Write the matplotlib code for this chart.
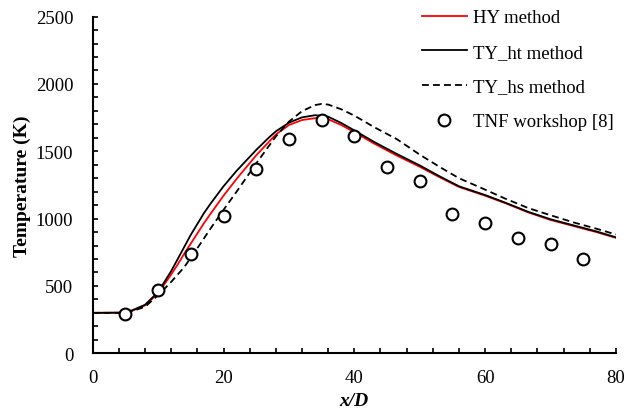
import matplotlib
matplotlib.use("Agg")
import matplotlib.pyplot as plt
from matplotlib.ticker import MultipleLocator

plt.rcParams['font.family'] = ['Liberation Serif', 'DejaVu Serif']

# --- data ---
x_hy = [0, 4, 6, 8, 10, 12, 13, 14, 15, 16, 17, 18, 20, 22, 25, 28, 30, 32, 34, 35, 36, 38, 40,
        43, 46.5, 50, 53, 56, 60, 63, 66.6, 70, 73.5, 77, 80]
t_hy = [300, 300, 315, 355, 445, 585, 660, 740, 815, 890, 965, 1035, 1170, 1295, 1470, 1625, 1695,
        1732, 1746, 1748, 1738, 1695, 1642, 1558, 1468, 1385, 1308, 1235, 1170, 1116,
        1046, 990, 945, 900, 857]

x_ht = [0, 4, 6, 8, 10, 12, 13, 14, 15, 16, 17, 18, 20, 22, 25, 27, 28, 30, 32, 34, 36, 38, 40,
        43, 46.5, 50, 53, 56, 60, 63, 66.6, 70, 73.5, 77, 80]
t_ht = [300, 302, 318, 360, 455, 610, 700, 790, 880, 960, 1040, 1110, 1240, 1355, 1510, 1605, 1648,
        1712, 1752, 1768, 1757, 1710, 1655, 1570, 1480, 1395, 1315, 1240, 1175, 1120,
        1050, 995, 950, 905, 861]

x_hs = [0, 4, 6, 8, 10, 12, 14, 15, 16, 18, 20, 22, 25, 28, 30, 32, 34, 35, 36, 38, 40,
        43, 46.5, 50, 53, 56, 60, 63, 66.6, 70, 73.5, 77, 80]
t_hs = [300, 300, 312, 345, 430, 530, 640, 710, 780, 925, 1065, 1200, 1410, 1610, 1720,
        1798, 1843, 1852, 1847, 1812, 1765, 1680, 1590, 1475, 1385, 1300, 1215, 1150,
        1078, 1025, 972, 925, 882]

x_exp = [5, 10, 15, 20, 25, 30, 35, 40, 45, 50, 55, 60, 65, 70, 75]
t_exp = [292, 472, 737, 1022, 1368, 1593, 1730, 1615, 1381, 1280, 1034, 967, 856, 811, 702]

fig = plt.figure(figsize=(6.35, 4.10), dpi=100)
ax = fig.add_axes([0.146, 0.136, 0.824, 0.821])

ax.plot(x_hy, t_hy, color='#ff0000', lw=1.3, label='HY method')
ax.plot(x_ht, t_ht, color='black', lw=1.3, label='TY_ht method')
ax.plot(x_hs, t_hs, color='black', lw=1.3, dashes=(3.8, 2.3), label='TY_hs method')
ax.plot(x_exp, t_exp, 'o', ms=8.5, mfc='white', mec='black', mew=1.5,
        label='TNF workshop [8]', zorder=5)

ax.set_xlim(0, 80)
ax.set_ylim(0, 2500)
ax.xaxis.set_major_locator(MultipleLocator(20))
ax.xaxis.set_minor_locator(MultipleLocator(4))
ax.yaxis.set_major_locator(MultipleLocator(500))
ax.yaxis.set_minor_locator(MultipleLocator(100))

for side in ['top', 'right']:
    ax.spines[side].set_visible(False)
for side in ['left', 'bottom']:
    ax.spines[side].set_linewidth(1.5)

ax.tick_params(axis='both', which='both', direction='in', length=3.5, width=1.2,
               labelsize=13.5)
ax.tick_params(axis='y', which='major', pad=14)
ax.tick_params(axis='x', which='major', pad=11)

ax.set_ylabel('Temperature (K)', fontsize=14, fontweight='bold', labelpad=3.5)
ax.set_xlabel('x/D', fontsize=14, fontweight='bold', fontstyle='italic', labelpad=5)

ax.legend(loc='upper left', bbox_to_anchor=(0.664, 0.975), bbox_transform=fig.transFigure,
          frameon=False, fontsize=13.5, borderpad=0, borderaxespad=0,
          handlelength=2.4, handletextpad=0.35, labelspacing=0.93)

fig.savefig('out.png', dpi=100)
